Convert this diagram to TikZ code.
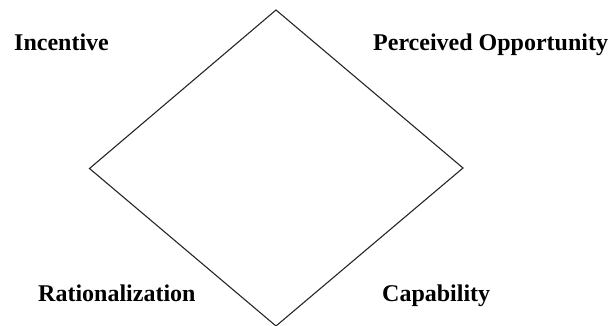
\documentclass[tikz,border=0pt]{standalone}
\usepackage{fontspec}
\setmainfont{Liberation Serif}
\begin{document}
\begin{tikzpicture}[x=1pt,y=1pt,
  lbl/.style={anchor=base west,inner sep=0pt,font=\fontsize{24}{28}\selectfont\bfseries},
  edge/.style={draw=black!85,line width=1.1pt,line join=miter}]
\useasboundingbox (0,0) rectangle (614,325);
\coordinate (T) at (276,315);
\coordinate (L) at (89.5,156.5);
\coordinate (R) at (463,157);
\coordinate (B) at (276,-1);
\draw[edge] (T) -- (R) -- (B) -- (L) -- cycle;
\node[lbl] (inc) at (14,275) {Incentive};
\node[lbl] (opp) at (373,275) {Perceived Opportunity};
\node[lbl] (rat) at (38,24) {Rationalization};
\node[lbl] (cap) at (382,24) {Capability};
\end{tikzpicture}
\end{document}
